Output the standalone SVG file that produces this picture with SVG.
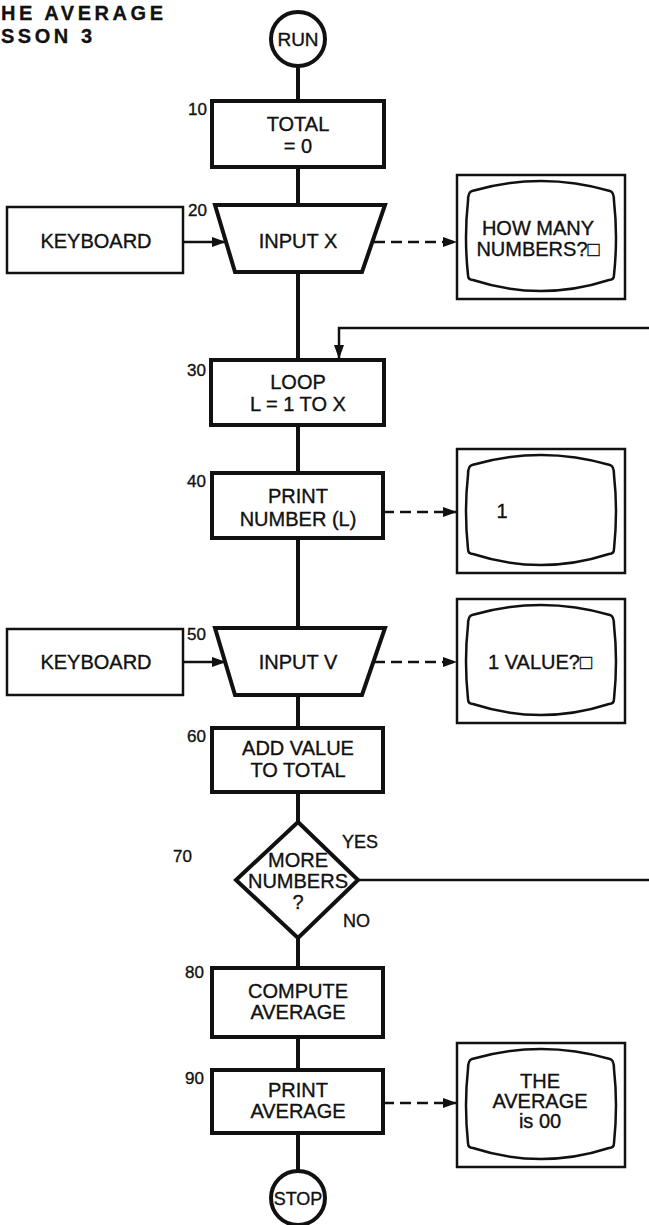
<svg xmlns="http://www.w3.org/2000/svg" xmlns:xlink="http://www.w3.org/1999/xlink" width="649" height="1225" viewBox="0 0 649 1225">
<style>
  text { font-family: "Liberation Sans", Arial, sans-serif; fill: #111; stroke: #111; stroke-width: 0.35; }
  .t { font-size: 20px; text-anchor: middle; }
  .num { font-size: 17px; }
  .lbl { font-size: 18px; }
  .title { font-size: 20px; font-weight: bold; stroke-width: 0.3; }
  .box { fill: #fff; stroke: #111; stroke-width: 4; stroke-linejoin: miter; }
  .kb { fill: #fff; stroke: #111; stroke-width: 2.5; }
  .scr { fill: #fff; stroke: #111; stroke-width: 2.5; }
  .spine { stroke: #111; stroke-width: 4; fill: none; }
  .thin { stroke: #111; stroke-width: 2.5; fill: none; }
  .dash { stroke: #111; stroke-width: 2.5; fill: none; stroke-dasharray: 11 6; }
</style>
<defs>
  <marker id="ah" markerUnits="userSpaceOnUse" markerWidth="15" markerHeight="10" refX="14" refY="5" orient="auto">
    <path d="M0,0 L14,5 L0,10 Z" fill="#111"/>
  </marker>
  <g id="screen">
    <rect class="scr" x="0" y="0" width="168" height="124"/>
    <path class="scr" d="M15,16 Q84,-4 153,16 Q157,17 157,26 Q161,62 157,100 Q157,105 152,105 Q84,127 16,105 Q11,105 11,100 Q7,62 11,26 Q11,17 15,16 Z"/>
  </g>
</defs>

<rect x="0" y="0" width="649" height="1225" fill="#fff"/>

<g id="title">
  <text class="title" x="1" y="20" textLength="162" lengthAdjust="spacing">HE AVERAGE</text>
  <text class="title" x="1" y="43" textLength="91" lengthAdjust="spacing">SSON 3</text>
</g>

<g id="connectors">
  <line class="spine" x1="298" y1="66" x2="298" y2="101"/>
  <line class="spine" x1="298" y1="167" x2="298" y2="205"/>
  <line class="spine" x1="298" y1="272" x2="298" y2="360"/>
  <line class="spine" x1="298" y1="425" x2="298" y2="473"/>
  <line class="spine" x1="298" y1="538" x2="298" y2="628"/>
  <line class="spine" x1="298" y1="695" x2="298" y2="728"/>
  <line class="spine" x1="298" y1="792" x2="298" y2="822"/>
  <line class="spine" x1="298" y1="938" x2="298" y2="968"/>
  <line class="spine" x1="298" y1="1037" x2="298" y2="1070"/>
  <line class="spine" x1="298" y1="1133" x2="298" y2="1172"/>
  <path class="thin" d="M358,880 H662 V328 H339 V359" marker-end="url(#ah)"/>
  <line class="thin" x1="183" y1="242" x2="226" y2="242" marker-end="url(#ah)"/>
  <line class="thin" x1="183" y1="662" x2="226" y2="662" marker-end="url(#ah)"/>
  <line class="dash" x1="374" y1="242" x2="457" y2="242" marker-end="url(#ah)"/>
  <line class="dash" x1="383" y1="512" x2="457" y2="512" marker-end="url(#ah)"/>
  <line class="dash" x1="374" y1="662" x2="457" y2="662" marker-end="url(#ah)"/>
  <line class="dash" x1="383" y1="1103" x2="457" y2="1103" marker-end="url(#ah)"/>
</g>

<g id="run">
  <circle class="box" cx="298" cy="39" r="27"/>
  <text class="t" x="298" y="46" style="font-size:19px">RUN</text>
</g>

<g id="n10">
  <rect class="box" x="212" y="101" width="172" height="66"/>
  <text class="num" x="188" y="115">10</text>
  <text class="t" x="298" y="131">TOTAL</text>
  <text class="t" x="298" y="153">= 0</text>
</g>

<g id="kb1">
  <rect class="kb" x="7" y="207" width="176" height="66"/>
  <text class="t" x="96" y="248">KEYBOARD</text>
</g>

<g id="n20">
  <polygon class="box" points="215,205 385,205 362,272 235,272"/>
  <text class="num" x="188" y="216">20</text>
  <text class="t" x="298" y="248">INPUT X</text>
</g>

<g id="scr1">
  <use xlink:href="#screen" x="457" y="175"/>
  <text class="t" x="538" y="235">HOW MANY</text>
  <text class="t" x="538" y="256">NUMBERS?□</text>
</g>

<g id="n30">
  <rect class="box" x="211" y="360" width="173" height="65"/>
  <text class="num" x="187" y="376">30</text>
  <text class="t" x="298" y="389">LOOP</text>
  <text class="t" x="298" y="411">L = 1 TO X</text>
</g>

<g id="n40">
  <rect class="box" x="212" y="473" width="171" height="65"/>
  <text class="num" x="187" y="487">40</text>
  <text class="t" x="298" y="503">PRINT</text>
  <text class="t" x="298" y="526">NUMBER (L)</text>
</g>

<g id="scr2">
  <use xlink:href="#screen" x="457" y="449"/>
  <text class="t" x="502" y="518">1</text>
</g>

<g id="kb2">
  <rect class="kb" x="7" y="629" width="176" height="66"/>
  <text class="t" x="96" y="669">KEYBOARD</text>
</g>

<g id="n50">
  <polygon class="box" points="215,628 385,628 362,695 235,695"/>
  <text class="num" x="187" y="640">50</text>
  <text class="t" x="298" y="669">INPUT V</text>
</g>

<g id="scr3">
  <use xlink:href="#screen" x="457" y="599"/>
  <text class="t" x="540" y="669">1 VALUE?□</text>
</g>

<g id="n60">
  <rect class="box" x="212" y="728" width="171" height="64"/>
  <text class="num" x="187" y="742">60</text>
  <text class="t" x="298" y="755">ADD VALUE</text>
  <text class="t" x="298" y="777">TO TOTAL</text>
</g>

<g id="n70">
  <polygon class="box" points="298,822 358,880 298,938 236,880"/>
  <text class="num" x="173" y="862">70</text>
  <text class="t" x="298" y="867">MORE</text>
  <text class="t" x="298" y="888">NUMBERS</text>
  <text class="t" x="298" y="909">?</text>
  <text class="lbl" x="342" y="848">YES</text>
  <text class="lbl" x="343" y="927">NO</text>
</g>

<g id="n80">
  <rect class="box" x="212" y="968" width="171" height="69"/>
  <text class="num" x="185" y="978">80</text>
  <text class="t" x="298" y="998">COMPUTE</text>
  <text class="t" x="298" y="1019">AVERAGE</text>
</g>

<g id="n90">
  <rect class="box" x="212" y="1070" width="171" height="63"/>
  <text class="num" x="185" y="1084">90</text>
  <text class="t" x="298" y="1097">PRINT</text>
  <text class="t" x="298" y="1118">AVERAGE</text>
</g>

<g id="scr4">
  <use xlink:href="#screen" x="457" y="1043"/>
  <text class="t" x="540" y="1088">THE</text>
  <text class="t" x="540" y="1108">AVERAGE</text>
  <text class="t" x="540" y="1128">is 00</text>
</g>

<g id="stop">
  <circle class="box" cx="298" cy="1198" r="27"/>
  <text class="t" x="298" y="1205" style="font-size:18px">STOP</text>
</g>
</svg>
